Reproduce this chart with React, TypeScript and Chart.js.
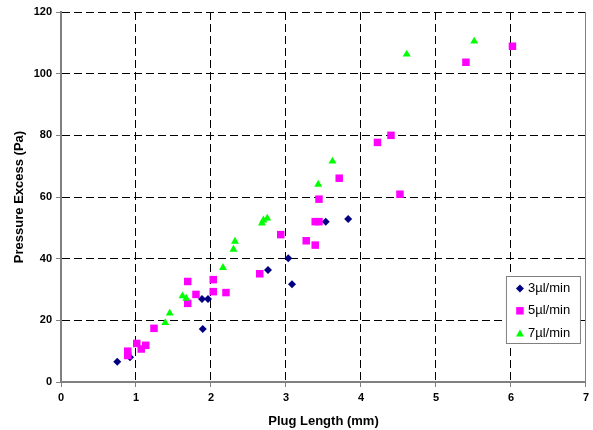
import React, { useEffect, useRef } from "react";
import { Chart, registerables } from "chart.js";

Chart.register(...registerables);

// 3 µl/min series
const flow3X = [0.75, 0.92, 1.88, 1.89, 1.96, 2.76, 3.03, 3.08, 3.53, 3.83];
const flow3Y = [6.6, 8.0, 26.9, 17.2, 26.9, 36.3, 40.1, 31.7, 52.0, 52.9];

// 5 µl/min series
const flow5X = [0.89, 0.89, 1.01, 1.07, 1.13, 1.24, 1.69, 1.69, 1.8, 2.03, 2.03, 2.2, 2.65, 2.93, 3.27, 3.39, 3.39, 3.44, 3.44, 3.71, 4.22, 4.4, 4.52, 5.4, 6.02];
const flow5Y = [10.0, 8.6, 12.5, 10.7, 11.9, 17.4, 25.5, 32.6, 28.4, 29.3, 33.2, 29.0, 35.1, 47.8, 45.8, 44.4, 52.0, 52.0, 59.3, 66.1, 77.7, 80.0, 60.9, 103.7, 108.9];

// 7 µl/min series
const flow7X = [1.39, 1.45, 1.62, 1.67, 2.16, 2.3, 2.32, 2.68, 2.7, 2.75, 3.43, 3.62, 4.61, 5.51];
const flow7Y = [19.2, 22.3, 27.9, 27.1, 37.1, 43.0, 45.6, 51.5, 52.5, 53.1, 64.1, 71.6, 106.3, 110.5];

const seriesLabels = ["3µl/min", "5µl/min", "7µl/min"];
const xAxisTitle = "Plug Length (mm)";
const yAxisTitle = "Pressure Excess (Pa)";
const xMin = 0, xMax = 7, xStep = 1;
const yMin = 0, yMax = 120, yStep = 20;

const FONT = '"Liberation Sans", Arial, sans-serif';

function toPoints(xs: number[], ys: number[]) {
  return xs.map((x, i) => ({ x, y: ys[i] }));
}

function drawMarker(ctx: CanvasRenderingContext2D, style: string, x: number, y: number, color: string) {
  ctx.fillStyle = color;
  ctx.beginPath();
  if (style === "rectRot") {
    const r = 4;
    ctx.moveTo(x, y - r);
    ctx.lineTo(x + r, y);
    ctx.lineTo(x, y + r);
    ctx.lineTo(x - r, y);
  } else if (style === "rect") {
    const s = 3.75;
    ctx.rect(x - s, y - s, 2 * s, 2 * s);
  } else {
    const w = 4, h = 7;
    ctx.moveTo(x, y - h / 2);
    ctx.lineTo(x + w, y + h / 2);
    ctx.lineTo(x - w, y + h / 2);
  }
  ctx.closePath();
  ctx.fill();
}

export default function App() {
  const ref = useRef<HTMLCanvasElement>(null);

  useEffect(() => {
    document.body.style.margin = "0";
    const canvas = ref.current;
    if (!canvas) return;

    const legendPlugin = {
      id: "boxLegend",
      afterDraw(chart: any) {
        const { ctx, chartArea } = chart;
        const boxW = 74, boxH = 67;
        const left = chartArea.right - 6 - boxW;
        const top = chartArea.bottom - 39 - boxH;
        ctx.save();
        ctx.fillStyle = "#ffffff";
        ctx.fillRect(left, top, boxW, boxH);
        ctx.strokeStyle = "#808080";
        ctx.lineWidth = 1;
        ctx.strokeRect(left + 0.5, top + 0.5, boxW, boxH);
        ctx.font = `13px ${FONT}`;
        ctx.textBaseline = "middle";
        ctx.textAlign = "left";
        chart.data.datasets.forEach((ds: any, i: number) => {
          const cy = top + 12.5 + i * 22.3;
          drawMarker(ctx, ds.pointStyle, left + 14, cy, ds.backgroundColor);
          ctx.fillStyle = "#000000";
          ctx.fillText(ds.label, left + 22, cy);
        });
        ctx.restore();
      },
    };

    const gridColor = (c: any) => {
      const v = c.tick ? c.tick.value : null;
      if (c.scale.axis === "x" && (v === xMin || v === xMax)) return "rgba(0,0,0,0)";
      if (c.scale.axis === "y" && v === yMin) return "rgba(0,0,0,0)";
      return "#000000";
    };

    const chart = new Chart(canvas, {
      type: "scatter",
      data: {
        datasets: [
          {
            label: seriesLabels[0],
            data: toPoints(flow3X, flow3Y),
            pointStyle: "rectRot",
            pointRadius: 4,
            borderWidth: 0,
            backgroundColor: "#000080",
            borderColor: "#000080",
            order: 3,
          },
          {
            label: seriesLabels[1],
            data: toPoints(flow5X, flow5Y),
            pointStyle: "rect",
            pointRadius: 5.3,
            borderWidth: 0,
            backgroundColor: "#FF00FF",
            borderColor: "#FF00FF",
            order: 2,
          },
          {
            label: seriesLabels[2],
            data: toPoints(flow7X, flow7Y),
            pointStyle: "triangle",
            pointRadius: 4.6,
            borderWidth: 0,
            backgroundColor: "#00FF00",
            borderColor: "#00FF00",
            order: 1,
          },
        ],
      },
      options: {
        responsive: false,
        animation: false,
        layout: { padding: { top: 12, right: 5, left: 0, bottom: 0 } },
        plugins: {
          legend: { display: false },
          tooltip: { enabled: false },
        },
        scales: {
          x: {
            type: "linear",
            min: xMin,
            max: xMax,
            ticks: {
              stepSize: xStep,
              color: "#000000",
              font: { family: FONT, size: 11, weight: "bold" },
              padding: 4,
            },
            grid: {
              color: gridColor,
              lineWidth: 1,
              tickColor: "#808080",
              tickLength: 5,
              tickBorderDash: [],
            },
            border: { color: "#808080", width: 2, dash: [8, 4] },
            title: {
              display: true,
              text: xAxisTitle,
              color: "#000000",
              font: { family: FONT, size: 13, weight: "bold" },
              padding: { top: 0, bottom: 1 },
            },
            afterFit: (s: any) => {
              s.height = 48;
            },
          },
          y: {
            type: "linear",
            min: yMin,
            max: yMax,
            ticks: {
              stepSize: yStep,
              color: "#000000",
              font: { family: FONT, size: 11, weight: "bold" },
              padding: 4,
            },
            grid: {
              color: gridColor,
              lineWidth: 1,
              tickColor: "#808080",
              tickLength: 5,
              tickBorderDash: [],
            },
            border: { color: "#808080", width: 2, dash: [8, 4] },
            title: {
              display: true,
              text: yAxisTitle,
              color: "#000000",
              font: { family: FONT, size: 13, weight: "bold" },
              padding: { top: 12, bottom: 0 },
            },
            afterFit: (s: any) => {
              s.width = 61;
            },
          },
          yRight: {
            type: "linear",
            position: "right",
            min: yMin,
            max: yMax,
            ticks: { display: false },
            grid: { drawOnChartArea: false, drawTicks: false },
            border: { color: "#808080", width: 1 },
            afterFit: (s: any) => {
              s.width = 0;
            },
          },
        },
      },
      plugins: [legendPlugin],
    } as any);

    return () => chart.destroy();
  }, []);

  return (
    <div style={{ width: 593, height: 430 }}>
      <canvas ref={ref} width={593} height={430} style={{ display: "block" }} />
    </div>
  );
}
